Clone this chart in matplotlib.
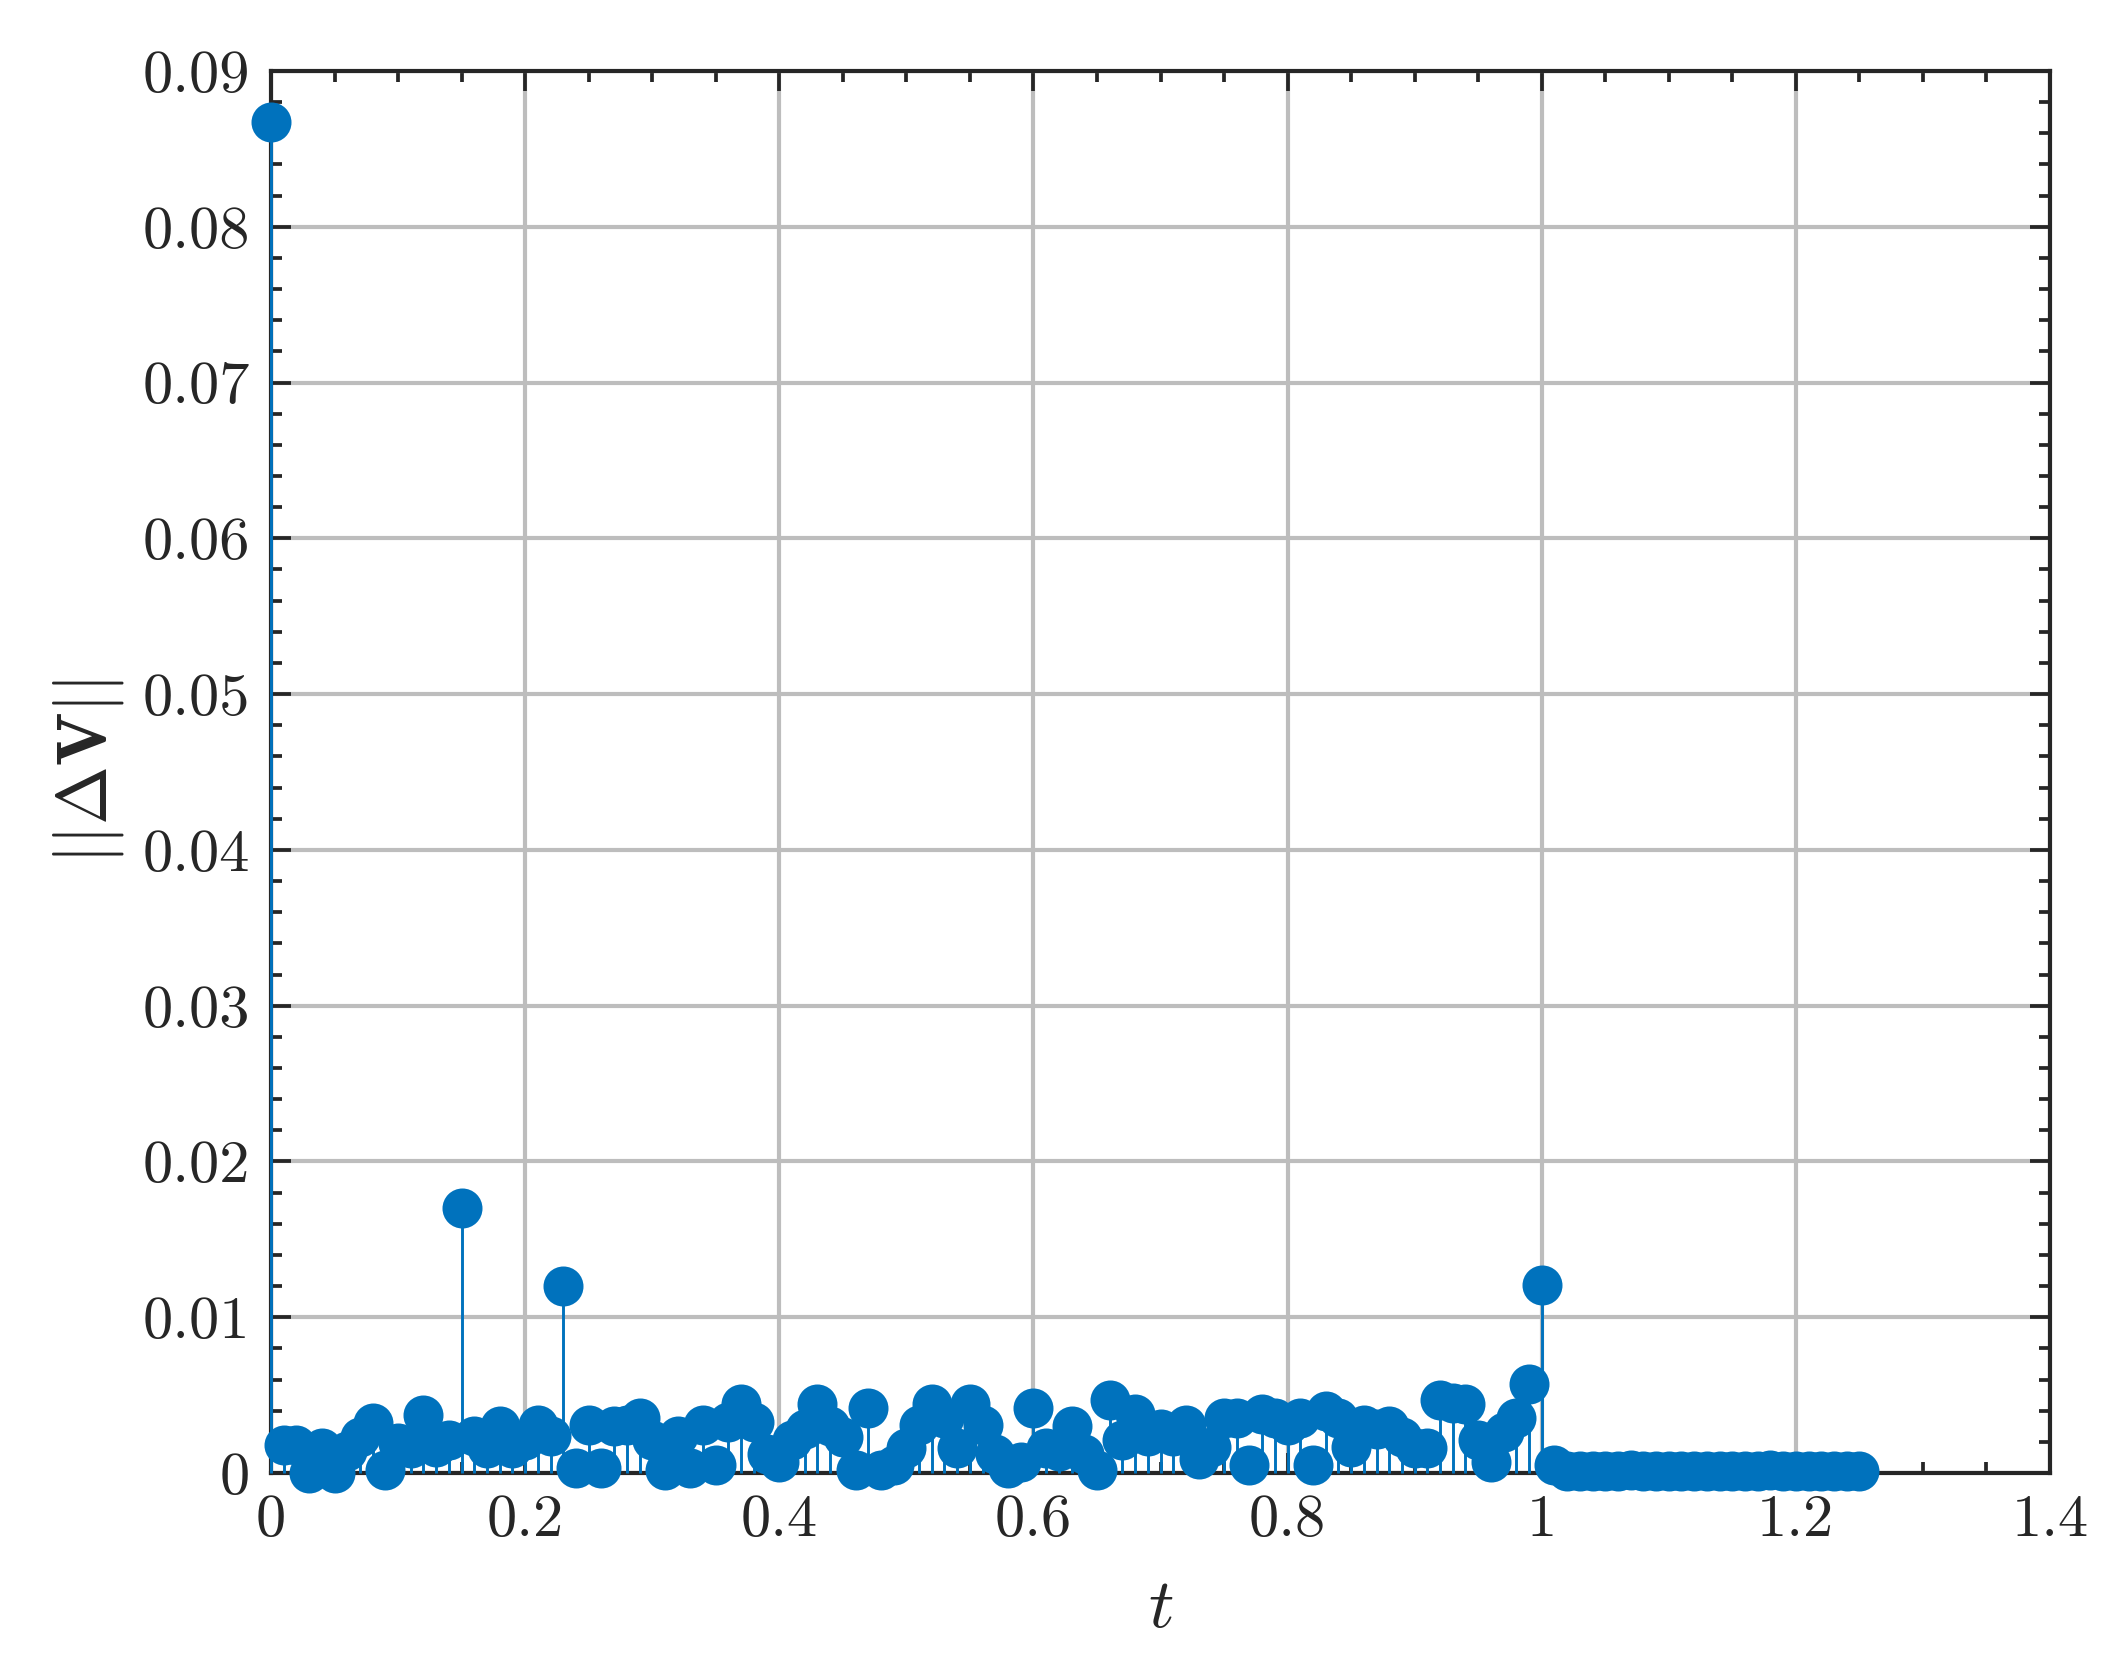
import numpy as np
import matplotlib
matplotlib.use("Agg")
import matplotlib.pyplot as plt

t = [round(0.01 * i, 2) for i in range(126)]
dV = [0.0867, 0.0018, 0.0018, 0.0000, 0.0016, 0.0000, 0.0014, 0.0023, 0.0032, 0.0002,
      0.0019, 0.0016, 0.0037, 0.0017, 0.0021, 0.0170, 0.0024, 0.0016, 0.0030, 0.0016,
      0.0021, 0.0031, 0.0024, 0.0120, 0.0003, 0.0031, 0.0003, 0.0030, 0.0031, 0.0035,
      0.0021, 0.0002, 0.0024, 0.0003, 0.0031, 0.0005, 0.0033, 0.0044, 0.0033, 0.0012,
      0.0007, 0.0021, 0.0028, 0.0044, 0.0030, 0.0023, 0.0002, 0.0042, 0.0002, 0.0005,
      0.0016, 0.0031, 0.0044, 0.0035, 0.0016, 0.0044, 0.0031, 0.0012, 0.0003, 0.0007,
      0.0042, 0.0016, 0.0014, 0.0030, 0.0012, 0.0002, 0.0047, 0.0021, 0.0038, 0.0024,
      0.0028, 0.0024, 0.0031, 0.0009, 0.0017, 0.0035, 0.0035, 0.0005, 0.0038, 0.0035,
      0.0031, 0.0035, 0.0005, 0.0040, 0.0035, 0.0017, 0.0031, 0.0028, 0.0030, 0.0023,
      0.0016, 0.0016, 0.0047, 0.0045, 0.0044, 0.0021, 0.0007, 0.0026, 0.0035, 0.0057,
      0.0121, 0.0005, 0.0001, 0.0001, 0.0001, 0.0001, 0.0001, 0.0002, 0.0001, 0.0001,
      0.0001, 0.0001, 0.0001, 0.0001, 0.0001, 0.0001, 0.0001, 0.0001, 0.0002, 0.0001,
      0.0001, 0.0001, 0.0001, 0.0001, 0.0001, 0.0001]

xticks = [0, 0.2, 0.4, 0.6, 0.8, 1.0, 1.2, 1.4]
xticklabels = ["0", "0.2", "0.4", "0.6", "0.8", "1", "1.2", "1.4"]
yticks = [0, 0.01, 0.02, 0.03, 0.04, 0.05, 0.06, 0.07, 0.08, 0.09]
yticklabels = ["0", "0.01", "0.02", "0.03", "0.04", "0.05", "0.06", "0.07", "0.08", "0.09"]

plt.rcParams['font.family'] = 'serif'
plt.rcParams['font.serif'] = ['cmr10']
plt.rcParams['mathtext.fontset'] = 'cm'
plt.rcParams['axes.unicode_minus'] = False

blue = '#0072BD'
txt = '#262626'

fig = plt.figure(figsize=(2127/300, 1667/300), dpi=300)
ax = fig.add_axes([271/2127, 1 - 1473/1667, (2050-271)/2127, (1473-71)/1667])

ml, sl, bl = ax.stem(t, dV, basefmt=' ')
plt.setp(sl, color=blue, linewidth=0.7, zorder=5)
plt.setp(ml, color=blue, markersize=8.6, markeredgecolor=blue, clip_on=False, zorder=6)
sl.set_clip_on(False)

ax.set_xlim(0, 1.4)
ax.set_ylim(0, 0.09)
ax.set_xticks(xticks)
ax.set_xticklabels(xticklabels)
ax.set_yticks(yticks)
ax.set_yticklabels(yticklabels)
ax.set_xticks(np.arange(0, 1.4001, 0.05), minor=True)
ax.set_yticks(np.arange(0, 0.09001, 0.002), minor=True)

ax.grid(True, which='major', color='#bdbdbd', linewidth=1.0)
ax.set_axisbelow(True)
ax.tick_params(which='both', direction='in', top=True, right=True, colors=txt,
               labelsize=14.5, width=0.9)
ax.tick_params(which='major', length=4.8, pad=5)
ax.tick_params(which='minor', length=2.6)
for s in ax.spines.values():
    s.set_color(txt)
    s.set_linewidth(1.0)
    s.set_zorder(4)

ax.set_xlabel(r'$t$', fontsize=17, color=txt, labelpad=7)
ax.set_ylabel(r'$||\Delta \mathbf{V}||$', fontsize=17, color=txt, labelpad=4)

fig.savefig('out.png', dpi=300)
